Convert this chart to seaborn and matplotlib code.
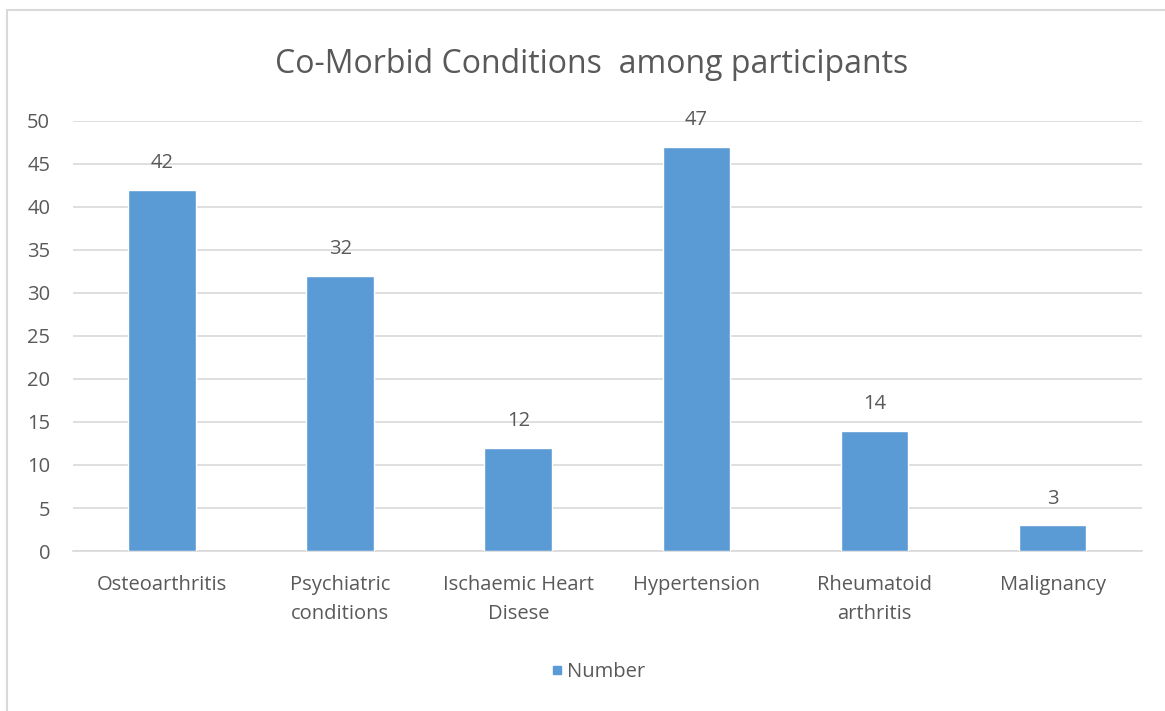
import matplotlib
matplotlib.use('Agg')
import matplotlib.pyplot as plt
import seaborn as sns
import pandas as pd
from matplotlib.patches import Rectangle
from matplotlib.lines import Line2D

conditions = ['Osteoarthritis', 'Psychiatric\nconditions', 'Ischaemic Heart\nDisese',
              'Hypertension', 'Rheumatoid\narthritis', 'Malignancy']
numbers = [42, 32, 12, 47, 14, 3]
series_name = 'Number'
title = 'Co-Morbid Conditions  among participants'

bar_color = '#5B9BD5'
text_color = '#595959'
grid_color = '#D9D9D9'

sns.set_style('white')
plt.rcParams['font.family'] = ['Open Sans', 'DejaVu Sans']

df = pd.DataFrame({'condition': conditions, 'value': numbers})

fig = plt.figure(figsize=(11.65, 7.11), dpi=100)
ax = fig.add_axes([0.0627, 0.225, 0.9173, 0.605])

sns.barplot(data=df, x='condition', y='value', color=bar_color, width=0.38,
            saturation=1, ax=ax, zorder=3)

ax.set_ylim(0, 50)
ax.set_xlim(-0.5, len(conditions) - 0.5)
ax.set_yticks(range(0, 51, 5))
ax.yaxis.grid(True, color=grid_color, linewidth=1.2, zorder=0)
ax.set_axisbelow(True)
for s in ['top', 'right', 'left']:
    ax.spines[s].set_visible(False)
ax.spines['bottom'].set_color(grid_color)
ax.spines['bottom'].set_linewidth(1.2)

# category boundary ticks
ax.set_xticks([i - 0.5 for i in range(len(conditions) + 1)], minor=True)
ax.tick_params(axis='x', which='minor', length=6, color=grid_color, width=1.2)
ax.tick_params(axis='x', which='major', length=0, pad=17, labelsize=14.5, labelcolor=text_color)
ax.tick_params(axis='y', length=0, pad=16.5, labelsize=14.5, labelcolor=text_color)
for lbl in ax.get_xticklabels():
    lbl.set_linespacing(1.65)
ax.set_xlabel('')
ax.set_ylabel('')

for i, v in enumerate(numbers):
    ax.annotate(str(v), (i, v), xytext=(0, 12), textcoords='offset points',
                ha='center', va='bottom', fontsize=14.5, color=text_color)

fig.text(0.508, 0.909, title, ha='center', va='center', fontsize=23, color=text_color)

# legend
handle = Line2D([], [], marker='s', linestyle='', color=bar_color, markersize=5.5)
fig.legend([handle], [series_name], loc='center', bbox_to_anchor=(0.512, 0.055),
           frameon=False, fontsize=14.5, labelcolor=text_color, handletextpad=0.0,
           handlelength=1.0)

# outer chart border
fig.patches.append(Rectangle((7 / 1165, -0.05), 1.1, 1 - 10 / 711 + 0.05,
                             transform=fig.transFigure, fill=False,
                             edgecolor='#D9D9D9', linewidth=1.5))

fig.savefig('out.png', dpi=100)
